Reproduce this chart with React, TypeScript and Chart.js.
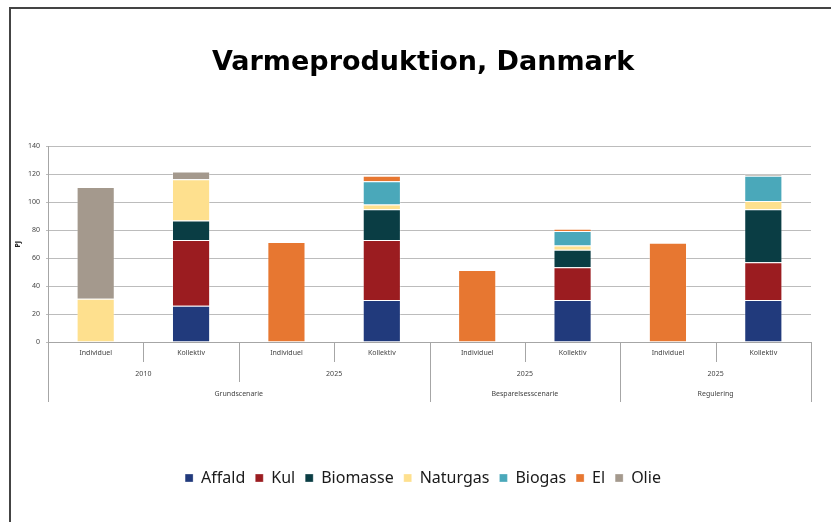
import React, { useEffect, useRef } from "react";
import { Chart, registerables } from "chart.js";
Chart.register(...registerables);

const categories = ["Individuel", "Kollektiv", "Individuel", "Kollektiv", "Individuel", "Kollektiv", "Individuel", "Kollektiv"];
const years = ["2010", "2010", "2025", "2025", "2025", "2025", "2025", "2025"];
const scenarios = ["Grundscenarie", "Grundscenarie", "Grundscenarie", "Grundscenarie", "Besparelsesscenarie", "Besparelsesscenarie", "Regulering", "Regulering"];

const affald = [null, 26, null, 30, null, 30, null, 30];
const kul = [null, 47, null, 43, null, 23.5, null, 27];
const biomasse = [null, 14, null, 22, null, 12.5, null, 38];
const naturgas = [31, 29.5, null, 3.5, null, 3, null, 6];
const biogas = [null, null, null, 16.5, null, 10.5, null, 18];
const el = [null, null, 71.5, 4, 51.5, 1.5, 71, null];
const olie = [80, 5.5, null, null, null, null, null, 1];

const seriesNames = ["Affald", "Kul", "Biomasse", "Naturgas", "Biogas", "El", "Olie"];
const seriesColors = ["#213a7c", "#9b1c20", "#0a3d44", "#fee08e", "#4aa8ba", "#e77731", "#a4998d"];
const seriesData = [affald, kul, biomasse, naturgas, biogas, el, olie];

const yMax = 140;
const yStep = 20;

const hierPlugin = {
  id: "hierAxis",
  afterLayout(chart: any) {
    // widen the clip area for y tick labels to the left of the narrow scale box
    chart.scales.y.left = 0;
  },
  afterDraw(chart: any) {
    const x = chart.scales.x;
    const area = chart.chartArea;
    const ctx = chart.ctx;
    const n = categories.length;
    const step = x.getPixelForValue(1) - x.getPixelForValue(0);
    const edge = (i: number) => x.getPixelForValue(i) - step / 2;
    const base = area.bottom;
    ctx.save();
    ctx.strokeStyle = "#a6a6a6";
    ctx.lineWidth = 1;
    for (let i = 0; i <= n; i++) {
      let len = 20;
      if (i === 0 || i === n || scenarios[i] !== scenarios[i - 1]) len = 60;
      else if (years[i] !== years[i - 1]) len = 40;
      const px = Math.round(edge(i)) + 0.5;
      ctx.beginPath();
      ctx.moveTo(px, base);
      ctx.lineTo(px, base + len);
      ctx.stroke();
    }
    ctx.fillStyle = "#444";
    ctx.font = "7px 'Noto Sans'";
    ctx.textAlign = "center";
    ctx.textBaseline = "middle";
    categories.forEach((c, i) => {
      ctx.fillText(c, x.getPixelForValue(i), base + 11);
    });
    let start = 0;
    for (let i = 1; i <= n; i++) {
      if (i === n || years[i] !== years[start] || scenarios[i] !== scenarios[start]) {
        ctx.fillText(years[start], (edge(start) + edge(i)) / 2, base + 31.5);
        start = i;
      }
    }
    start = 0;
    for (let i = 1; i <= n; i++) {
      if (i === n || scenarios[i] !== scenarios[start]) {
        ctx.fillText(scenarios[start], (edge(start) + edge(i)) / 2, base + 52);
        start = i;
      }
    }
    ctx.save();
    ctx.translate(17.5, (area.top + area.bottom) / 2);
    ctx.rotate(-Math.PI / 2);
    ctx.font = "bold 7px 'Noto Sans'";
    ctx.fillStyle = "#222";
    ctx.fillText("PJ", 0, 0);
    ctx.restore();
    ctx.restore();
  },
};

export default function App() {
  const ref = useRef<HTMLCanvasElement>(null);
  useEffect(() => {
    const chart = new Chart(ref.current as HTMLCanvasElement, {
      type: "bar",
      data: {
        labels: categories,
        datasets: seriesNames.map((name, k) => ({
          label: name,
          data: seriesData[k] as any,
          backgroundColor: seriesColors[k],
          borderColor: "rgba(255,255,255,0.3)",
          borderWidth: 1,
          barPercentage: 0.4,
          categoryPercentage: 1,
        })),
      },
      options: {
        responsive: false,
        devicePixelRatio: 1,
        animation: false,
        layout: { padding: { left: 35, right: 20, top: 0, bottom: 26 } },
        plugins: {
          title: {
            display: true,
            text: "Varmeproduktion, Danmark",
            color: "#000",
            font: { family: "'DejaVu Sans'", size: 27, weight: "bold" },
            padding: { top: 47, bottom: 67 },
          },
          legend: {
            position: "bottom",
            labels: {
              color: "#1a1a1a",
              font: { family: "'Noto Sans'", size: 16 },
              boxWidth: 8,
              boxHeight: 8,
              padding: 10,
            },
          },
          tooltip: { enabled: false },
        },
        scales: {
          x: {
            stacked: true,
            grid: { display: false },
            border: { display: true, color: "#a6a6a6" },
            ticks: { display: false },
            afterFit: (s: any) => {
              s.height = 118;
            },
          },
          y: {
            stacked: true,
            min: 0,
            max: yMax,
            grid: { color: "#bcbcbc", tickLength: 2 },
            border: { display: true, color: "#a6a6a6" },
            ticks: {
              stepSize: yStep,
              color: "#444",
              padding: 6,
              font: { family: "'Noto Sans'", size: 7 },
            },
            afterFit: (s: any) => {
              s.width = 13;
            },
          },
        },
      },
      plugins: [hierPlugin],
    });
    return () => chart.destroy();
  }, []);
  return (
    <div style={{ position: "fixed", left: 0, top: 0, width: 831, height: 522, overflow: "hidden", background: "#fff" }}>
      <div style={{ position: "absolute", left: 9, top: 7, width: 900, height: 600, borderLeft: "2px solid #444", borderTop: "2px solid #444" }} />
      <canvas ref={ref} width={831} height={522} style={{ position: "absolute", left: 0, top: 0, width: 831, height: 522 }} />
    </div>
  );
}
